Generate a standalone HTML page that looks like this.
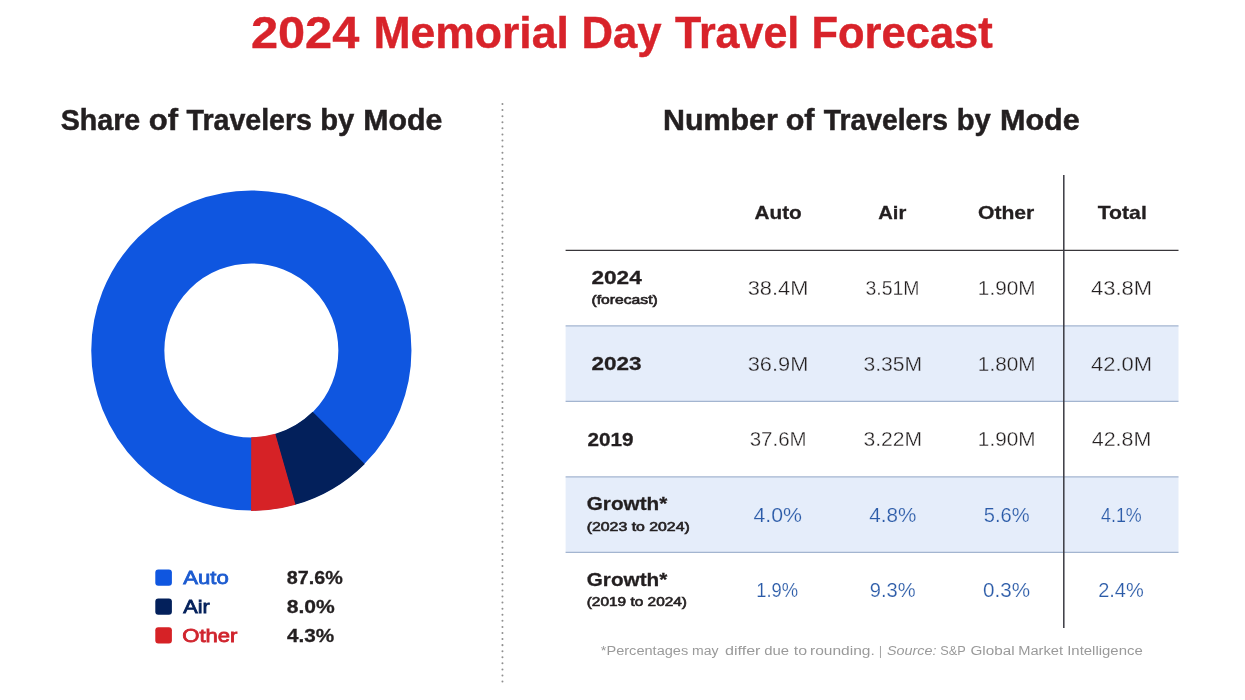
<!DOCTYPE html>
<html lang="en">
<head>
<meta charset="utf-8">
<title>2024 Memorial Day Travel Forecast</title>
<style>
html,body{margin:0;padding:0;background:#fff;}
body{width:1245px;height:700px;overflow:hidden;}
svg{display:block;}
text{font-family:"Liberation Sans",Arial,Helvetica,sans-serif;white-space:pre;}
.t1{font-size:43.8px;font-weight:bold;fill:#d8232a;stroke:#d8232a;stroke-width:0.4;}
.t2{font-size:29.5px;font-weight:bold;fill:#231f20;stroke:#231f20;stroke-width:0.5;}
.la{font-size:19px;font-weight:normal;fill:#1c5bd0;stroke:#1c5bd0;stroke-width:0.8;}
.lb{font-size:19px;font-weight:normal;fill:#03205b;stroke:#03205b;stroke-width:0.8;}
.lc{font-size:19px;font-weight:normal;fill:#d0242d;stroke:#d0242d;stroke-width:0.8;}
.lv{font-size:19px;font-weight:bold;fill:#231f20;stroke:#231f20;stroke-width:0.3;}
.th{font-size:19px;font-weight:bold;fill:#231f20;stroke:#231f20;stroke-width:0.3;}
.rl{font-size:19.2px;font-weight:bold;fill:#231f20;stroke:#231f20;stroke-width:0.3;}
.rs{font-size:12.2px;font-weight:normal;fill:#231f20;stroke:#231f20;stroke-width:0.6;}
.v{font-size:20px;font-weight:normal;fill:#231f20;stroke:#ffffff;stroke-width:0.3;}
.vb{font-size:20px;font-weight:normal;fill:#231f20;stroke:#e5edfa;stroke-width:0.3;}
.g{font-size:20px;font-weight:normal;fill:#2b5ba8;stroke:#ffffff;stroke-width:0.2;}
.gb{font-size:20px;font-weight:normal;fill:#2b5ba8;stroke:#e5edfa;stroke-width:0.2;}
.fn{font-size:12.5px;font-weight:normal;fill:#9a9a9a;}
</style>
</head>
<body>
<svg width="1245" height="700" viewBox="0 0 1245 700">
<rect width="1245" height="700" fill="#ffffff"/>
<!-- Dotted divider -->
<line x1="502.45" y1="104" x2="502.45" y2="682" stroke="#8f8f8f" stroke-width="2" stroke-dasharray="0.01 6.07" stroke-linecap="round"/>

<!-- Donut chart -->
<g id="donut">
<circle cx="251.35" cy="350.5" r="123.55" fill="none" stroke="#0f56e0" stroke-width="73.10"/>
<path d="M295.02 504.84 A160.4 160.4 0 0 0 364.77 463.92 L312.66 411.81 A86.7 86.7 0 0 1 274.96 433.92 Z" fill="#03205b"/>
<path d="M251.07 510.90 A160.4 160.4 0 0 0 295.56 504.69 L275.25 433.84 A86.7 86.7 0 0 1 251.20 437.20 Z" fill="#d62226"/>
</g>

<!-- Legend swatches -->
<rect x="155.3" y="569.6" width="16.6" height="16.2" rx="3" fill="#0f56e0"/>
<rect x="155.3" y="598.45" width="16.6" height="16.2" rx="3" fill="#03205b"/>
<rect x="155.3" y="627.3" width="16.6" height="16.2" rx="3" fill="#d62226"/>

<!-- Table backgrounds -->
<rect x="565.6" y="325.9" width="612.9" height="75.5" fill="#e5edfa"/>
<rect x="565.6" y="476.9" width="612.9" height="75.5" fill="#e5edfa"/>
<!-- Row lines -->
<g stroke="#a3b5d0" stroke-width="1.4">
<line x1="565.6" y1="325.9" x2="1178.5" y2="325.9"/>
<line x1="565.6" y1="401.4" x2="1178.5" y2="401.4"/>
<line x1="565.6" y1="476.9" x2="1178.5" y2="476.9"/>
<line x1="565.6" y1="552.4" x2="1178.5" y2="552.4"/>
</g>
<line x1="565.6" y1="250.35" x2="1178.5" y2="250.35" stroke="#38363a" stroke-width="1.3"/>
<line x1="1063.8" y1="175" x2="1063.8" y2="628" stroke="#3a3a42" stroke-width="1.5"/>

<text class="t1" y="47.6"><tspan x="250.98" textLength="108.27" lengthAdjust="spacingAndGlyphs">2024</tspan> <tspan x="373.42" textLength="195.41" lengthAdjust="spacingAndGlyphs">Memorial</tspan> <tspan x="581.40" textLength="80.09" lengthAdjust="spacingAndGlyphs">Day</tspan> <tspan x="674.99" textLength="124.33" lengthAdjust="spacingAndGlyphs">Travel</tspan> <tspan x="811.46" textLength="181.30" lengthAdjust="spacingAndGlyphs">Forecast</tspan></text>
<text class="t2" y="129.5"><tspan x="60.74" textLength="79.52" lengthAdjust="spacingAndGlyphs">Share</tspan> <tspan x="148.73" textLength="29.26" lengthAdjust="spacingAndGlyphs">of</tspan> <tspan x="186.50" textLength="125.51" lengthAdjust="spacingAndGlyphs">Travelers</tspan> <tspan x="320.17" textLength="34.07" lengthAdjust="spacingAndGlyphs">by</tspan> <tspan x="363.20" textLength="79.08" lengthAdjust="spacingAndGlyphs">Mode</tspan></text>
<text class="t2" y="129.5"><tspan x="662.97" textLength="114.79" lengthAdjust="spacingAndGlyphs">Number</tspan> <tspan x="785.73" textLength="28.76" lengthAdjust="spacingAndGlyphs">of</tspan> <tspan x="823.75" textLength="124.26" lengthAdjust="spacingAndGlyphs">Travelers</tspan> <tspan x="956.68" textLength="34.08" lengthAdjust="spacingAndGlyphs">by</tspan> <tspan x="999.95" textLength="79.83" lengthAdjust="spacingAndGlyphs">Mode</tspan></text>
<text class="la" y="583.8"><tspan x="183.25" textLength="45.50" lengthAdjust="spacingAndGlyphs">Auto</tspan></text>
<text class="lb" y="612.8"><tspan x="183.24" textLength="26.51" lengthAdjust="spacingAndGlyphs">Air</tspan></text>
<text class="lc" y="641.5"><tspan x="182.24" textLength="55.26" lengthAdjust="spacingAndGlyphs">Other</tspan></text>
<text class="lv" y="583.8"><tspan x="286.74" textLength="56.01" lengthAdjust="spacingAndGlyphs">87.6%</tspan></text>
<text class="lv" y="612.8"><tspan x="286.74" textLength="48.02" lengthAdjust="spacingAndGlyphs">8.0%</tspan></text>
<text class="lv" y="641.5"><tspan x="287.00" textLength="47.25" lengthAdjust="spacingAndGlyphs">4.3%</tspan></text>
<text class="th" y="219.3"><tspan x="754.49" textLength="47.27" lengthAdjust="spacingAndGlyphs">Auto</tspan></text>
<text class="th" y="219.3"><tspan x="878.25" textLength="28.01" lengthAdjust="spacingAndGlyphs">Air</tspan></text>
<text class="th" y="219.3"><tspan x="977.99" textLength="56.26" lengthAdjust="spacingAndGlyphs">Other</tspan></text>
<text class="th" y="219.3"><tspan x="1097.75" textLength="49.04" lengthAdjust="spacingAndGlyphs">Total</tspan></text>
<text class="rl" y="284.1"><tspan x="591.49" textLength="50.26" lengthAdjust="spacingAndGlyphs">2024</tspan></text>
<text class="rs" y="303.9"><tspan x="591.49" textLength="66.28" lengthAdjust="spacingAndGlyphs">(forecast)</tspan></text>
<text class="rl" y="370.3"><tspan x="591.48" textLength="50.03" lengthAdjust="spacingAndGlyphs">2023</tspan></text>
<text class="rl" y="445.7"><tspan x="587.48" textLength="46.03" lengthAdjust="spacingAndGlyphs">2019</tspan></text>
<text class="rl" y="510.4"><tspan x="586.75" textLength="80.50" lengthAdjust="spacingAndGlyphs">Growth*</tspan></text>
<text class="rs" y="530.5"><tspan x="586.74" textLength="103.02" lengthAdjust="spacingAndGlyphs">(2023 to 2024)</tspan></text>
<text class="rl" y="585.8"><tspan x="586.75" textLength="80.50" lengthAdjust="spacingAndGlyphs">Growth*</tspan></text>
<text class="rs" y="606.3"><tspan x="586.74" textLength="100.27" lengthAdjust="spacingAndGlyphs">(2019 to 2024)</tspan></text>
<text class="v" y="294.7"><tspan x="747.70" textLength="60.65" lengthAdjust="spacingAndGlyphs">38.4M</tspan></text>
<text class="v" y="294.7"><tspan x="865.44" textLength="54.14" lengthAdjust="spacingAndGlyphs">3.51M</tspan></text>
<text class="v" y="294.7"><tspan x="977.89" textLength="57.72" lengthAdjust="spacingAndGlyphs">1.90M</tspan></text>
<text class="v" y="294.7"><tspan x="1090.97" textLength="61.12" lengthAdjust="spacingAndGlyphs">43.8M</tspan></text>
<text class="vb" y="370.6"><tspan x="747.70" textLength="60.65" lengthAdjust="spacingAndGlyphs">36.9M</tspan></text>
<text class="vb" y="370.6"><tspan x="863.44" textLength="58.66" lengthAdjust="spacingAndGlyphs">3.35M</tspan></text>
<text class="vb" y="370.6"><tspan x="977.89" textLength="57.72" lengthAdjust="spacingAndGlyphs">1.80M</tspan></text>
<text class="vb" y="370.6"><tspan x="1090.97" textLength="61.12" lengthAdjust="spacingAndGlyphs">42.0M</tspan></text>
<text class="v" y="446.0"><tspan x="749.70" textLength="56.88" lengthAdjust="spacingAndGlyphs">37.6M</tspan></text>
<text class="v" y="446.0"><tspan x="863.44" textLength="58.66" lengthAdjust="spacingAndGlyphs">3.22M</tspan></text>
<text class="v" y="446.0"><tspan x="977.89" textLength="57.72" lengthAdjust="spacingAndGlyphs">1.90M</tspan></text>
<text class="v" y="446.0"><tspan x="1091.72" textLength="59.62" lengthAdjust="spacingAndGlyphs">42.8M</tspan></text>
<text class="gb" y="521.8"><tspan x="753.48" textLength="48.55" lengthAdjust="spacingAndGlyphs">4.0%</tspan></text>
<text class="gb" y="521.8"><tspan x="869.23" textLength="47.04" lengthAdjust="spacingAndGlyphs">4.8%</tspan></text>
<text class="gb" y="521.8"><tspan x="983.71" textLength="45.81" lengthAdjust="spacingAndGlyphs">5.6%</tspan></text>
<text class="gb" y="521.8"><tspan x="1100.98" textLength="40.79" lengthAdjust="spacingAndGlyphs">4.1%</tspan></text>
<text class="g" y="597.0"><tspan x="756.18" textLength="41.87" lengthAdjust="spacingAndGlyphs">1.9%</tspan></text>
<text class="g" y="597.0"><tspan x="869.71" textLength="45.83" lengthAdjust="spacingAndGlyphs">9.3%</tspan></text>
<text class="g" y="597.0"><tspan x="982.96" textLength="47.07" lengthAdjust="spacingAndGlyphs">0.3%</tspan></text>
<text class="g" y="597.0"><tspan x="1098.20" textLength="45.60" lengthAdjust="spacingAndGlyphs">2.4%</tspan></text>
<text class="fn" y="654.6"><tspan x="600.75" textLength="87.51" lengthAdjust="spacingAndGlyphs">*Percentages</tspan> <tspan x="691.96" textLength="26.54" lengthAdjust="spacingAndGlyphs">may</tspan> <tspan x="724.98" textLength="35.52" lengthAdjust="spacingAndGlyphs">differ</tspan> <tspan x="764.21" textLength="24.82" lengthAdjust="spacingAndGlyphs">due</tspan> <tspan x="793.73" textLength="13.32" lengthAdjust="spacingAndGlyphs">to</tspan> <tspan x="809.97" textLength="64.84" lengthAdjust="spacingAndGlyphs">rounding.</tspan> <tspan x="878.94" textLength="2.84" lengthAdjust="spacingAndGlyphs">|</tspan> <tspan x="886.99" textLength="49.53" lengthAdjust="spacingAndGlyphs" font-style="italic">Source:</tspan> <tspan x="940.22" textLength="25.29" lengthAdjust="spacingAndGlyphs">S&amp;P</tspan> <tspan x="970.47" textLength="44.08" lengthAdjust="spacingAndGlyphs">Global</tspan> <tspan x="1018.21" textLength="44.80" lengthAdjust="spacingAndGlyphs">Market</tspan> <tspan x="1067.21" textLength="75.56" lengthAdjust="spacingAndGlyphs">Intelligence</tspan></text>
</svg>
</body>
</html>
